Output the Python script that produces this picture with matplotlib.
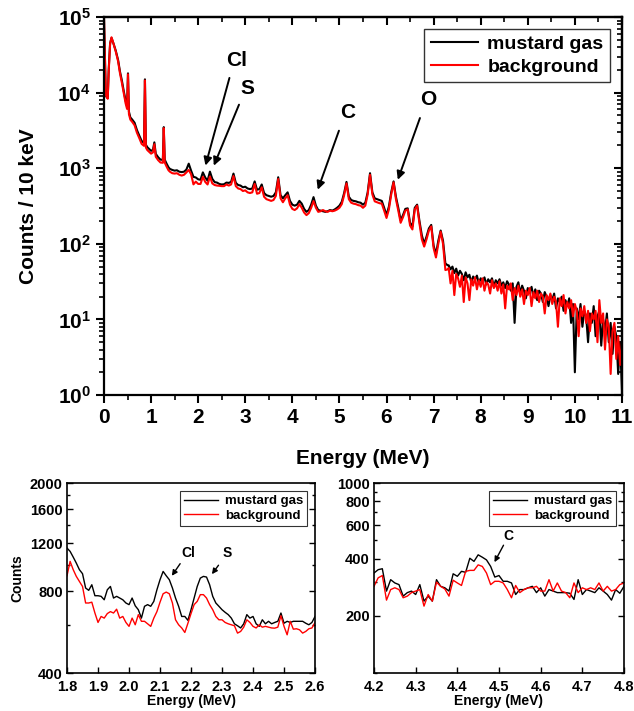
import numpy as np
import matplotlib
matplotlib.use('Agg')
import matplotlib.pyplot as plt
from matplotlib.ticker import FixedLocator, NullFormatter

plt.rcParams['font.family'] = ['Liberation Sans', 'DejaVu Sans']
plt.rcParams['font.weight'] = 'bold'
plt.rcParams['axes.labelweight'] = 'bold'
plt.rcParams['mathtext.fontset'] = 'custom'
plt.rcParams['mathtext.rm'] = 'Liberation Sans:bold'
plt.rcParams['mathtext.bf'] = 'Liberation Sans:bold'

# ── Main spectrum: low-energy part (non-uniform points) ────────────────
E_low = [0.00, 0.04, 0.08, 0.10, 0.13, 0.16, 0.20, 0.25, 0.30, 0.34,
         0.38, 0.42, 0.46, 0.49, 0.51, 0.53, 0.56, 0.60, 0.65, 0.70,
         0.75, 0.80, 0.85, 0.87, 0.89, 0.92, 0.96, 1.00, 1.04, 1.07,
         1.10, 1.15, 1.20, 1.25, 1.27, 1.29, 1.33, 1.37]
mustard_low = [98000, 9000, 8500, 20000, 45000, 53000, 45000, 36000, 27000, 19000,
               14500, 10500, 7800, 6600, 18000, 5600, 4700, 4400, 4000, 3200,
               2700, 2300, 2150, 15000, 2050, 1900, 1800, 1700, 1750, 2200,
               1550, 1400, 1300, 1290, 3500, 1300, 1150, 1030]
backgr_low = [98000, 9200, 8300, 19000, 44000, 54000, 45000, 35000, 26000, 18000,
              13500, 9800, 7200, 6100, 17500, 5200, 4400, 4100, 3700, 2950,
              2500, 2100, 1980, 14500, 1880, 1740, 1650, 1560, 1620, 2080,
              1420, 1280, 1190, 1180, 3400, 1190, 1050, 940]

# ── Main spectrum: 1.40 - 7.30 MeV, 50 keV steps ───────────────────────
E_mid = np.round(np.arange(1.40, 7.301, 0.05), 2)
mustard_mid = [980, 950, 930, 940, 900, 890, 900, 960, 1150, 930,
               770, 755, 714, 704, 882, 755, 684, 902, 724, 656,
               646, 620, 610, 614, 646, 640, 660, 850, 640, 600,
               590, 560, 570, 540, 530, 540, 670, 520, 530, 610,
               470, 440, 430, 420, 430, 480, 760, 440, 400, 440,
               480, 370, 330, 320, 330, 370, 340, 290, 265, 280,
               330, 415, 320, 280, 275, 270, 265, 270, 280, 275,
               285, 300, 320, 360, 470, 660, 420, 380, 370, 365,
               355, 350, 330, 350, 480, 860, 480, 400, 390, 380,
               370, 300, 240, 310, 480, 670, 420, 300, 205, 240,
               290, 295, 190, 170, 300, 330, 200, 130, 100, 125,
               160, 178, 95, 73, 110, 150, 110, 55, 52]
backgr_mid = [900, 860, 850, 860, 820, 800, 820, 880, 950, 833,
              612, 665, 620, 620, 770, 660, 610, 777, 630, 600,
              590, 586, 580, 580, 610, 590, 610, 790, 580, 540,
              530, 500, 510, 480, 470, 480, 620, 460, 470, 560,
              420, 390, 380, 370, 380, 430, 720, 400, 355, 400,
              440, 330, 290, 280, 295, 335, 300, 260, 240, 255,
              300, 368, 300, 265, 270, 280, 270, 265, 275, 270,
              275, 285, 300, 335, 440, 630, 390, 350, 340, 335,
              325, 320, 300, 320, 450, 820, 450, 365, 355, 345,
              340, 275, 220, 285, 450, 650, 390, 275, 190, 225,
              275, 285, 175, 155, 285, 320, 185, 115, 92, 115,
              150, 170, 88, 66, 100, 145, 100, 45, 46]

# ── Main spectrum: noisy tail 7.32 - 11.00 MeV, 40 keV steps ───────────
E_tail = np.round(np.arange(7.32, 11.001, 0.04), 2)
mustard_tail = [52, 46, 50, 41, 47, 38, 44, 40, 33, 42,
                36, 39, 31, 37, 34, 38, 30, 35, 32, 36,
                29, 34, 31, 35, 27, 33, 30, 34, 28, 31,
                26, 32, 29, 24, 30, 9, 27, 31, 22, 28,
                24, 19, 26, 23, 27, 20, 25, 18, 24, 22,
                17, 23, 20, 15, 21, 18, 22, 14, 19, 17,
                20, 13, 18, 15, 19, 9, 16, 2, 14, 10,
                16, 8, 13, 11, 5, 12, 9, 15, 6, 11,
                13, 4.5, 10, 7, 12, 5, 9, 3.5, 8, 6,
                1.9, 5, 1.2]
backgr_tail = [48, 30, 44, 21, 40, 35, 27, 38, 17, 36,
               30, 18, 34, 28, 36, 25, 33, 27, 35, 24,
               31, 29, 22, 33, 26, 30, 24, 32, 22, 29,
               14, 28, 25, 30, 18, 26, 21, 28, 20, 25,
               16, 24, 21, 26, 15, 23, 19, 24, 17, 22,
               20, 12, 21, 18, 22, 16, 20, 17, 8, 19,
               15, 21, 12, 17, 14, 18, 11, 16, 13, 6,
               14, 11, 15, 9, 13, 7, 12, 10, 13, 5,
               18, 9, 12, 4, 10, 8, 1.9, 7, 9, 3,
               6, 2.5, 5]

E_main = np.concatenate([E_low, E_mid, E_tail])
mustard_main = np.concatenate([mustard_low, mustard_mid, mustard_tail])
backgr_main = np.concatenate([backgr_low, backgr_mid, backgr_tail])

# ── Inset 1: 1.80 - 2.60 MeV, 10 keV bins ──────────────────────────────
E_in1 = np.round(np.arange(1.80, 2.6001, 0.01), 2)
mustard_in1 = [1153, 1121, 1068, 1015, 960, 928, 822, 806, 845, 770,
               770, 766, 744, 810, 833, 755, 766, 755, 744, 724,
               714, 755, 707, 684, 637, 704, 714, 704, 734, 810,
               882, 946, 912, 882, 822, 755, 704, 646, 646, 625,
               684, 755, 833, 894, 907, 902, 845, 766, 724, 704,
               684, 669, 656, 637, 607, 597, 586, 607, 656, 637,
               646, 607, 594, 628, 607, 620, 607, 614, 620, 665,
               610, 620, 614, 620, 620, 620, 620, 610, 602, 614,
               646]
backgr_in1 = [912, 1030, 960, 907, 869, 833, 724, 724, 729, 665,
              614, 646, 637, 662, 673, 665, 687, 637, 646, 614,
              594, 637, 602, 656, 620, 620, 607, 594, 637, 673,
              729, 783, 794, 783, 724, 628, 602, 586, 564, 610,
              662, 714, 734, 777, 777, 755, 714, 684, 646, 628,
              628, 614, 607, 602, 597, 561, 569, 590, 628, 614,
              594, 586, 602, 590, 594, 590, 586, 585, 590, 650,
              594, 553, 620, 580, 582, 577, 561, 569, 582, 586,
              614]

# ── Inset 2: 4.20 - 4.80 MeV, 10 keV bins ──────────────────────────────
E_in2 = np.round(np.arange(4.20, 4.8001, 0.01), 2)
mustard_in2 = [336, 350, 354, 270, 310, 298, 292, 254, 265, 270,
               259, 292, 239, 254, 239, 310, 286, 281, 270, 333,
               323, 343, 339, 402, 387, 419, 407, 394, 364, 320,
               326, 304, 304, 298, 259, 275, 275, 281, 286, 265,
               281, 254, 275, 270, 265, 265, 265, 263, 244, 310,
               259, 275, 270, 265, 281, 270, 259, 242, 275, 263,
               286]
backgr_in2 = [286, 317, 326, 242, 275, 281, 275, 249, 254, 265,
              270, 275, 225, 259, 239, 301, 286, 277, 254, 308,
              298, 289, 343, 347, 347, 371, 364, 336, 292, 304,
              304, 298, 275, 249, 289, 265, 275, 281, 281, 286,
              270, 270, 310, 270, 298, 270, 265, 249, 298, 265,
              281, 275, 281, 275, 298, 270, 286, 270, 275, 292,
              298]

# ── Figure ─────────────────────────────────────────────────────────────
fig = plt.figure(figsize=(6.34, 7.11), dpi=100)
ax = fig.add_axes([0.1640, 0.4444, 0.8170, 0.5316])
ax.plot(E_main, mustard_main, color='black', lw=1.5, label='mustard gas')
ax.plot(E_main, backgr_main, color='red', lw=1.5, label='background')
ax.set_yscale('log')
ax.set_xlim(0, 11)
ax.set_ylim(1, 1e5)

ax.xaxis.set_major_locator(FixedLocator(range(0, 12)))
ax.xaxis.set_minor_locator(FixedLocator(np.arange(0.5, 11, 1.0)))
ax.set_xticklabels([str(i) for i in range(0, 12)])
ydec = [1, 10, 100, 1000, 10000, 100000]
ax.yaxis.set_major_locator(FixedLocator(ydec))
ax.set_yticklabels([r'$\mathbf{10^{%d}}$' % i for i in range(6)])
yminor = [m * d for d in ydec[:-1] for m in range(2, 10)]
ax.yaxis.set_minor_locator(FixedLocator(yminor))
ax.yaxis.set_minor_formatter(NullFormatter())
ax.tick_params(which='major', direction='out', length=6, width=1.5, labelsize=15)
ax.tick_params(which='minor', direction='out', length=3.5, width=1.2)
for s in ax.spines.values():
    s.set_linewidth(1.6)

top = ax.secondary_xaxis('top')
top.xaxis.set_major_locator(FixedLocator(range(0, 12)))
top.xaxis.set_minor_locator(FixedLocator(np.arange(0.5, 11, 1.0)))
top.tick_params(which='major', direction='in', length=6, width=1.5, labeltop=False)
top.tick_params(which='minor', direction='in', length=3.5, width=1.2)
top.spines['top'].set_linewidth(1.6)
right = ax.secondary_yaxis('right')
right.yaxis.set_major_locator(FixedLocator(ydec))
right.yaxis.set_minor_locator(FixedLocator(yminor))
right.yaxis.set_minor_formatter(NullFormatter())
right.tick_params(which='major', direction='in', length=6, width=1.5, labelright=False)
right.tick_params(which='minor', direction='in', length=3.5, width=1.2)
right.spines['right'].set_linewidth(1.6)

ax.set_xlabel('Energy (MeV)', fontsize=15, labelpad=16)
ax.set_ylabel('Counts / 10 keV', fontsize=15, labelpad=14)
ax.legend(loc='upper right', fontsize=14, frameon=True, fancybox=False,
          edgecolor='black', handlelength=2.4, borderaxespad=0.6,
          handletextpad=0.5, borderpad=0.35, labelspacing=0.25).get_frame().set_linewidth(1.0)

arrow = dict(arrowstyle='-|>', color='black', lw=1.4, mutation_scale=12)
main_marks = [('Cl', (2.82, 27000), (2.68, 17000), (2.14, 1000)),
              ('S', (3.04, 11500), (2.89, 7500), (2.31, 1000)),
              ('C', (5.18, 5400), (5.01, 3400), (4.52, 480)),
              ('O', (6.88, 8000), (6.73, 5000), (6.22, 650))]
for lab, txt, tail, head in main_marks:
    ax.text(*txt, lab, fontsize=15, fontweight='bold', ha='center', va='center')
    ax.annotate('', xy=head, xytext=tail, arrowprops=arrow)

# ── Insets ─────────────────────────────────────────────────────────────
def inset(rect, E, m, b, xlim, xticks, ylim, yticks, yminor, marks, ylabel=None):
    a = fig.add_axes(rect)
    a.plot(E, m, color='black', lw=1.0, label='mustard gas')
    a.plot(E, b, color='red', lw=1.0, label='background')
    a.set_yscale('log')
    a.set_xlim(*xlim)
    a.set_ylim(*ylim)
    a.xaxis.set_major_locator(FixedLocator(xticks))
    a.set_xticklabels(['%.1f' % v for v in xticks])
    a.yaxis.set_major_locator(FixedLocator(yticks))
    a.set_yticklabels([str(v) for v in yticks])
    a.yaxis.set_minor_locator(FixedLocator(yminor))
    a.yaxis.set_minor_formatter(NullFormatter())
    a.tick_params(which='both', direction='in', right=True, top=False, width=1.0)
    a.tick_params(which='major', length=4, labelsize=10.5)
    a.tick_params(axis='x', which='major', pad=5)
    a.tick_params(axis='y', which='major', pad=3)
    a.tick_params(which='minor', length=2.5)
    for s in a.spines.values():
        s.set_linewidth(1.2)
    a.set_xlabel('Energy (MeV)', fontsize=10, labelpad=0)
    if ylabel:
        a.set_ylabel(ylabel, fontsize=10, labelpad=4)
    lg = a.legend(loc='upper right', fontsize=9.5, frameon=True, fancybox=False,
                  edgecolor='black', handlelength=2.6, borderaxespad=0.6,
                  handletextpad=0.5, borderpad=0.3, labelspacing=0.2)
    lg.get_frame().set_linewidth(0.8)
    for lab, txt, tail, head in marks:
        a.text(*txt, lab, fontsize=10, fontweight='bold', ha='center', va='center')
        a.annotate('', xy=head, xytext=tail,
                   arrowprops=dict(arrowstyle='-|>', color='black', lw=1.0, mutation_scale=8))
    return a

inset([0.1057, 0.0534, 0.3912, 0.2672], E_in1, mustard_in1, backgr_in1,
      (1.8, 2.6), np.round(np.arange(1.8, 2.61, 0.1), 1), (400, 2000),
      [400, 800, 1200, 1600, 2000], [600, 1000, 1400, 1800],
      [('Cl', (2.192, 1105), (2.17, 1030), (2.133, 894)),
       ('S', (2.316, 1105), (2.294, 1016), (2.262, 907))], ylabel='Counts')
inset([0.5899, 0.0534, 0.3943, 0.2672], E_in2, mustard_in2, backgr_in2,
      (4.2, 4.8), np.round(np.arange(4.2, 4.81, 0.1), 1), (100, 1000),
      [200, 400, 600, 800, 1000], [100, 300, 500, 700, 900],
      [('C', (4.522, 526), (4.514, 485), (4.486, 372))])

fig.savefig('out.png', dpi=100)
